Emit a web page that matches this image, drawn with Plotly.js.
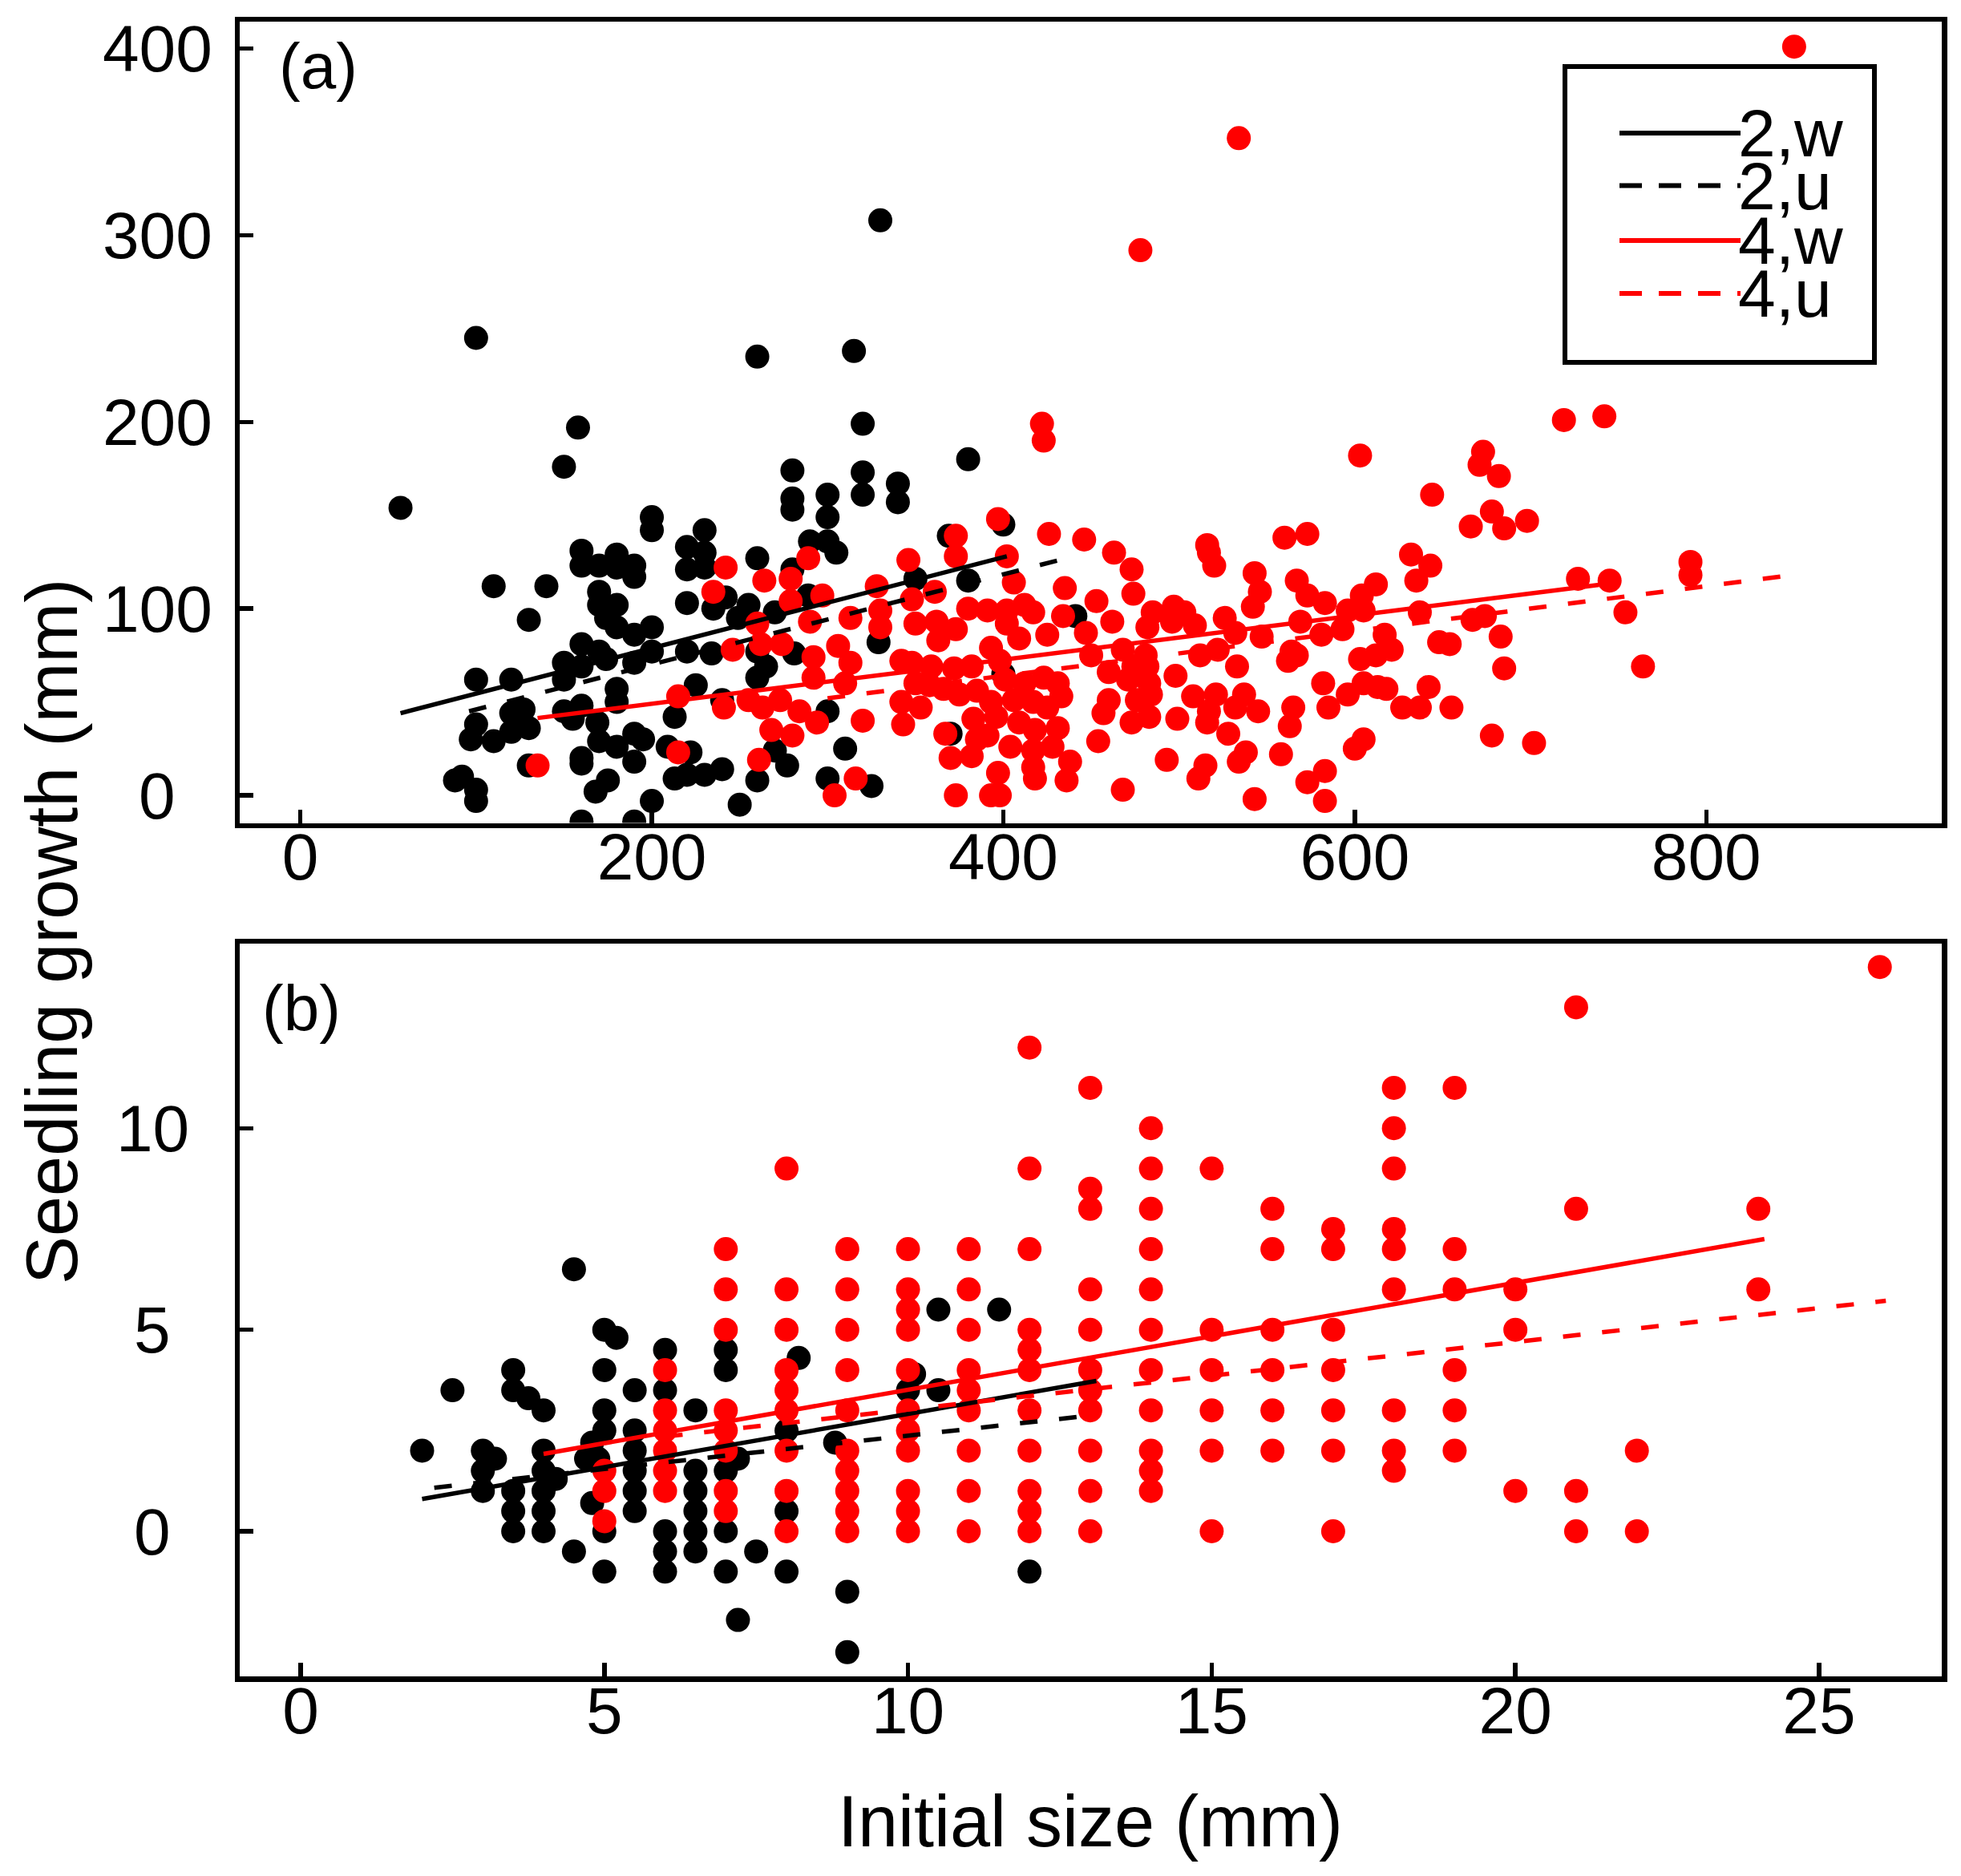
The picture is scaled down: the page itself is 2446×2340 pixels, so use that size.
<!DOCTYPE html>
<html>
<head>
<meta charset="utf-8">
<script src="https://cdn.plot.ly/plotly-3.0.1.min.js"></script>
<style>
  html, body { margin: 0; padding: 0; background: #ffffff; }
  #chart { width: 2446px; height: 2340px; }
</style>
</head>
<body>
<div id="chart"></div>
<script>
// ---------------------------------------------------------------------------
// DATOS
// Panel (a): tamano inicial (mm) vs crecimiento (mm)
const aBlack = [
  [100,245],[260,235],[315,238],[330,308],[320,199],[158,197],[380,180],[150,176],[57,154],
  [200,149],[200,142],[160,131],[160,123],[170,123],[180,129],[180,122],[190,123],[190,117],
  [110,112],[140,112],[130,94],[170,109],[170,102],[180,102],[174,95],[180,90],[190,86],
  [200,90],[200,77],[190,71],[160,81],[170,77],[174,73],[150,71],[150,62],[160,69],[100,62],
  [120,62],[180,57],[180,50],[160,48],[150,45],[155,41],[169,39],[127,46],[120,44],[130,36],
  [120,34],[100,38],[97,30],[110,29],[170,29],[180,26],[190,33],[195,30],[190,18],[160,20],
  [160,17],[175,8],[168,2],[200,-3],[130,16],[88,8],[92,10],[100,3],[100,-3],[160,-14],
  [190,-14],[213,42],[213,9],[209,26],[280,174],[280,159],[280,153],[300,161],[300,149],
  [320,173],[320,161],[340,167],[340,157],[230,142],[220,133],[230,130],[220,121],[230,122],
  [290,136],[300,136],[305,130],[260,127],[280,121],[220,103],[235,100],[242,106],[255,102],
  [270,98],[249,95],[289,107],[350,116],[380,115],[400,145],[369,139],[441,96],[329,82],
  [220,77],[234,76],[260,77],[265,69],[260,63],[281,76],[225,59],[240,51],[300,45],[222,23],
  [220,11],[230,11],[240,14],[260,8],[277,16],[270,24],[300,9],[325,5],[310,25],[250,-5],
  [370,33],[400,65]
];
const aRed = [
  [135,16],[215,53],[215,23],
  [422,199],[423,190],[397,148],[373,139],[373,128],[426,140],[446,137],[463,130],[402,128],
  [346,126],[406,114],[435,111],[242,122],[289,127],[264,115],[279,116],[279,104],[235,109],
  [297,107],[328,112],[361,109],[348,105],[313,95],[330,90],[330,99],[290,93],[260,92],
  [262,81],[274,81],[246,78],[306,80],[313,71],[292,74],[292,63],[310,60],[241,47],[255,51],
  [263,47],[273,51],[284,45],[294,39],[268,35],[280,32],[320,40],[261,19],[316,9],[304,0],
  [380,100],[391,99],[402,99],[412,102],[425,86],[409,84],[402,92],[373,89],[362,93],[350,92],
  [363,83],[393,79],[417,98],[434,96],[453,104],[447,87],[462,93],[450,75],[460,66],[342,72],
  [348,71],[359,69],[372,68],[382,69],[398,72],[401,62],[412,60],[423,63],[431,60],[433,53],
  [350,60],[358,59],[342,50],[353,47],[366,57],[375,54],[385,56],[393,50],[406,51],[417,50],
  [425,47],[343,38],[383,41],[396,42],[409,39],[418,35],[431,36],[385,30],[391,32],[404,26],
  [367,33],[370,20],[382,21],[417,24],[428,26],[438,18],[454,29],[457,44],[460,51],[397,12],
  [418,9],[417,15],[436,8],[373,0],[393,0],[398,0],[468,3],
  [719,201],[603,182],[673,184],[671,177],[682,171],[644,161],[678,152],[666,144],[685,143],
  [698,147],[560,138],[573,140],[516,134],[517,130],[520,123],[473,121],[474,108],[543,119],
  [546,109],[542,101],[567,115],[573,107],[583,103],[612,113],[604,107],[596,99],[605,99],
  [632,129],[643,123],[635,115],[637,98],[667,94],[674,96],[683,85],[648,82],[654,81],[685,68],
  [485,98],[482,90],[497,101],[503,98],[509,91],[496,93],[526,95],[532,87],[547,85],[569,93],
  [581,86],[593,89],[564,77],[567,75],[562,72],[617,86],[621,78],[612,75],[603,73],[512,75],
  [522,78],[533,69],[498,64],[481,75],[482,69],[474,69],[468,78],[471,62],[483,60],[484,54],
  [476,51],[473,39],[483,42],[508,53],[521,54],[537,54],[545,45],[532,47],[517,45],[516,39],
  [499,41],[528,33],[582,60],[596,54],[605,60],[613,58],[618,57],[585,47],[565,47],[563,37],
  [627,47],[637,47],[642,58],[655,47],[678,32],[702,28],[605,30],[600,25],[558,22],[538,23],
  [534,18],[493,19],[515,16],[511,9],[583,13],[573,7],[583,-3],[543,-2],
  [742,203],[727,116],[745,115],[754,98],[791,125],[791,118],[764,69],[850,401],[534,352],[478,292]
];

// Panel (b)
const bBlack = [
  [2,2],[2.5,3.5],[3,2],[3.2,1.8],[3,1.5],[3,1],[3.5,4],[3.5,3.5],[3.75,3.3],[4,3],[4,2],
  [4,1.5],[4.2,1.3],[3.5,1],[3.5,0.5],[3.5,0],[4,1],[4,0.5],[4,0],[4.5,6.5],[4.5,-0.5],
  [4.7,1.8],[4.9,1.8],[4.8,0.7],[5,5],[5.2,4.8],[5,4],[5,3],[5,2.5],[4.8,2.2],[5,0],[5,-1],
  [5.5,3.5],[5.5,2.5],[5.5,2],[5.5,1.5],[5.5,1],[5.5,0.5],[6,4.5],[6,3.5],[6,0],[6,-0.5],
  [6,-1],[6.5,3],[6.5,1.5],[6.5,1],[6.5,0.5],[6.5,0],[6.5,-0.5],[7,4.5],[7,4],[7,1.5],
  [7.2,1.8],[7,0],[7,-1],[7.2,-2.2],[7.5,-0.5],[8,2.5],[8,0.5],[8,-1],[8.2,4.3],[8.8,2.2],
  [9,-1.5],[9,-3],[10,3.5],[10.1,3.9],[10.5,3.5],[10.5,5.5],[11.5,5.5],[12,-1]
];
const bRed = [
  [5,1.5],[5,1],[5,0.25],
  [6,4],[6,3],[6,2.5],[6,2],[6,1.5],[6,1],
  [7,7],[7,6],[7,5],[7,3],[7,2.5],[7,2],[7,1],[7,0.5],
  [8,9],[8,6],[8,5],[8,4],[8,3.5],[8,3],[8,2],[8,1],[8,0],
  [9,7],[9,6],[9,5],[9,4],[9,3],[9,2],[9,1.5],[9,1],[9,0.5],[9,0],
  [10,7],[10,6],[10,5.5],[10,5],[10,4],[10,3],[10,2.5],[10,2],[10,1],[10,0.5],[10,0],
  [11,7],[11,6],[11,5],[11,4],[11,3.5],[11,3],[11,2],[11,1],[11,0],
  [12,12],[12,9],[12,7],[12,5],[12,4.5],[12,4],[12,3],[12,2],[12,1],[12,0.5],[12,0],
  [13,11],[13,8.5],[13,8],[13,6],[13,5],[13,4],[13,3.5],[13,3],[13,2],[13,1],[13,0],
  [14,10],[14,9],[14,8],[14,7],[14,6],[14,5],[14,4],[14,3],[14,2],[14,1.5],[14,1],
  [15,9],[15,5],[15,4],[15,3],[15,2],[15,0],
  [16,8],[16,7],[16,5],[16,4],[16,3],[16,2],
  [17,7.5],[17,7],[17,5],[17,4],[17,3],[17,2],[17,0],
  [18,11],[18,10],[18,9],[18,7.5],[18,7],[18,6],[18,3],[18,2],[18,1.5],
  [19,11],[19,7],[19,6],[19,4],[19,3],[19,2],
  [20,6],[20,5],[20,1],
  [21,13],[21,8],[21,1],[21,0],
  [22,2],[22,0],
  [24,8],[24,6],
  [26,14]
];

// Rectas ajustadas (extremos)
const aFit2wX = [57, 402],  aFit2wY = [44, 128];
const aFit2uX = [96, 438],  aFit2uY = [45, 127.5];
const aFit4wX = [135, 739], aFit4wY = [41.4, 112.7];
const aFit4uX = [300, 852], aFit4uY = [52, 118.3];
const bFit2wX = [2.0, 13.1], bFit2wY = [0.8, 3.73];
const bFit2uX = [2.2, 13.0], bFit2uY = [1.08, 2.87];
const bFit4wX = [4.0, 24.1], bFit4wY = [1.92, 7.25];
const bFit4uX = [6.0, 26.1], bFit4uY = [2.35, 5.72];

// Ejes y leyenda
const aXTicks = [0, 200, 400, 600, 800];
const aYTicks = [0, 100, 200, 300, 400];
const bXTicks = [0, 5, 10, 15, 20, 25];
const bYTicks = [0, 5, 10];
const legendLabels = ['2,w', '2,u', '4,w', '4,u'];

// ---------------------------------------------------------------------------
// GEOMETRIA DE LA FIGURA (pixeles)
const W = 2446, H = 2340;
const L = 299, R = 24, T = 27, B = 249;
const plotW = W - L - R;
const plotH = H - T - B;
const px = X => (X - L) / plotW;
const py = Y => (H - B - Y) / plotH;

const FONT = "'Liberation Sans', Arial, sans-serif";
const RED = '#ff0000';
const BLACK = '#000000';
const DASH_PLOT = '22px,27px';
const DASH_LEG = '28px,21px';

function puntos(pts, color, xa, ya) {
  return {
    x: pts.map(p => p[0]), y: pts.map(p => p[1]),
    xaxis: xa, yaxis: ya,
    type: 'scatter', mode: 'markers',
    marker: { color: color, size: 30, line: { width: 0 } },
    hoverinfo: 'skip', showlegend: false
  };
}

function recta(xs, ys, color, dash, xa, ya) {
  return {
    x: xs, y: ys, xaxis: xa, yaxis: ya,
    type: 'scatter', mode: 'lines',
    line: { color: color, width: 5.5, dash: dash },
    hoverinfo: 'skip', showlegend: false
  };
}

const traces = [
  puntos(aBlack, BLACK, 'x', 'y'),
  puntos(aRed, RED, 'x', 'y'),
  recta(aFit2wX, aFit2wY, BLACK, 'solid', 'x', 'y'),
  recta(aFit2uX, aFit2uY, BLACK, DASH_PLOT, 'x', 'y'),
  recta(aFit4wX, aFit4wY, RED, 'solid', 'x', 'y'),
  recta(aFit4uX, aFit4uY, RED, DASH_PLOT, 'x', 'y'),
  puntos(bBlack, BLACK, 'x2', 'y2'),
  puntos(bRed, RED, 'x2', 'y2'),
  recta(bFit2wX, bFit2wY, BLACK, 'solid', 'x2', 'y2'),
  recta(bFit2uX, bFit2uY, BLACK, DASH_PLOT, 'x2', 'y2'),
  recta(bFit4wX, bFit4wY, RED, 'solid', 'x2', 'y2'),
  recta(bFit4uX, bFit4uY, RED, DASH_PLOT, 'x2', 'y2')
];

const axisBase = {
  showline: true, mirror: true, linecolor: BLACK, linewidth: 6.5,
  ticks: 'inside', ticklen: 17, tickwidth: 5.5, tickcolor: BLACK,
  showgrid: false, zeroline: false, fixedrange: true,
  tickfont: { family: FONT, size: 82, color: BLACK }
};

// Etiquetas del eje y centradas (como en la figura original)
const annotations = [];
aYTicks.forEach(v => annotations.push({
  text: String(v), xref: 'paper', yref: 'y', x: px(196), y: v,
  xanchor: 'center', yanchor: 'middle', showarrow: false,
  font: { family: FONT, size: 82, color: BLACK }
}));
bYTicks.forEach(v => annotations.push({
  text: String(v), xref: 'paper', yref: 'y2', x: px(190), y: v,
  xanchor: 'center', yanchor: 'middle', showarrow: false,
  font: { family: FONT, size: 82, color: BLACK }
}));

// Letras de panel y titulos
annotations.push(
  { text: '(a)', xref: 'paper', yref: 'paper', x: px(346), y: py(82),
    xanchor: 'left', yanchor: 'middle', showarrow: false,
    font: { family: FONT, size: 80, color: BLACK } },
  { text: '(b)', xref: 'paper', yref: 'paper', x: px(325), y: py(1257),
    xanchor: 'left', yanchor: 'middle', showarrow: false,
    font: { family: FONT, size: 80, color: BLACK } },
  { text: 'Seedling growth (mm)', xref: 'paper', yref: 'paper', x: px(65), y: py(1162),
    xanchor: 'center', yanchor: 'middle', textangle: -90, showarrow: false,
    font: { family: FONT, size: 90, color: BLACK } },
  { text: 'Initial size (mm)', xref: 'paper', yref: 'paper', x: px(1360), y: py(2272),
    xanchor: 'center', yanchor: 'middle', showarrow: false,
    font: { family: FONT, size: 90, color: BLACK } }
);

// Leyenda dibujada a mano (lineas largas como en el original)
const legendRows = [166, 231.5, 300, 366];
const legendColors = [BLACK, BLACK, RED, RED];
const legendDash = ['solid', DASH_LEG, 'solid', DASH_LEG];
const shapes = [{
  type: 'rect', xref: 'paper', yref: 'paper', layer: 'above',
  x0: px(1952), x1: px(2338), y0: py(452), y1: py(83),
  line: { color: BLACK, width: 6 }, fillcolor: 'rgba(0,0,0,0)'
}];
legendLabels.forEach((lab, i) => {
  shapes.push({
    type: 'line', xref: 'paper', yref: 'paper', layer: 'above',
    x0: px(2020), x1: px(2171), y0: py(legendRows[i]), y1: py(legendRows[i]),
    line: { color: legendColors[i], width: 6, dash: legendDash[i] }
  });
  annotations.push({
    text: lab, xref: 'paper', yref: 'paper', x: px(2166), y: py(legendRows[i]),
    xanchor: 'left', yanchor: 'middle', showarrow: false,
    font: { family: FONT, size: 84, color: BLACK }
  });
});

const layout = {
  width: W, height: H,
  paper_bgcolor: '#ffffff', plot_bgcolor: '#ffffff',
  margin: { l: L, r: R, t: T, b: B, pad: 0 },
  showlegend: false,
  font: { family: FONT, color: BLACK },
  xaxis: Object.assign({}, axisBase, {
    anchor: 'y', range: [-34.5, 934], tickvals: aXTicks, ticktext: aXTicks.map(String),
    ticklabelstandoff: -34
  }),
  yaxis: Object.assign({}, axisBase, {
    anchor: 'x', domain: [py(1026.5), 1], range: [-14.8, 414.4],
    tickvals: aYTicks, showticklabels: false
  }),
  xaxis2: Object.assign({}, axisBase, {
    anchor: 'y2', range: [-1.003, 27.02], tickvals: bXTicks, ticktext: bXTicks.map(String),
    ticklabelstandoff: -34
  }),
  yaxis2: Object.assign({}, axisBase, {
    anchor: 'x2', domain: [0, py(1177)], range: [-3.6, 14.58],
    tickvals: bYTicks, showticklabels: false
  }),
  shapes: shapes,
  annotations: annotations
};

Plotly.newPlot('chart', traces, layout, { displayModeBar: false, responsive: false, staticPlot: true });
</script>
</body>
</html>
